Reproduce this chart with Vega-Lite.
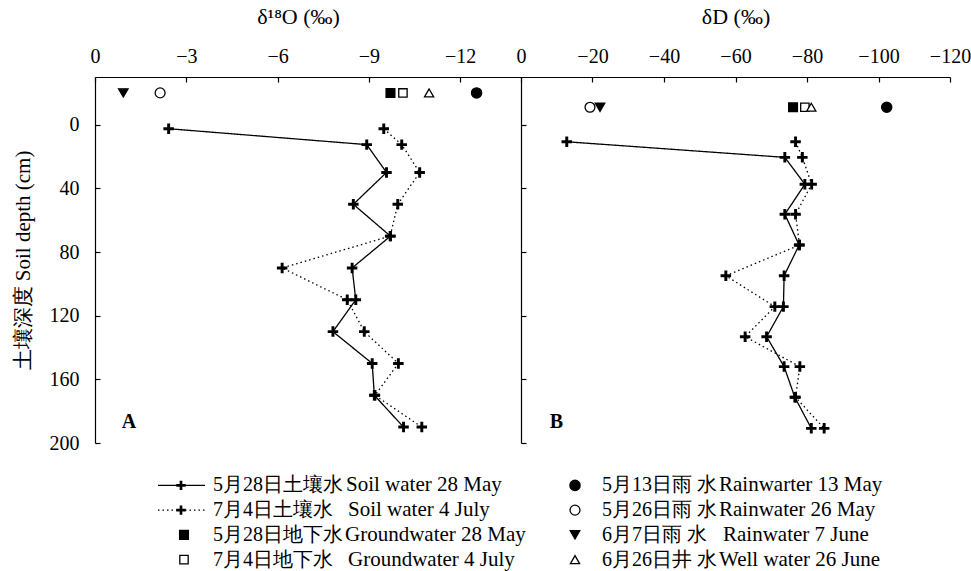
{
  "$schema": "https://vega.github.io/schema/vega-lite/v6.json",
  "background": "white",
  "padding": {"left": 12, "top": 5, "right": 5, "bottom": 0},
  "config": {
    "view": {"stroke": null},
    "font": "Liberation Serif",
    "axis": {
      "labelFont": "Liberation Serif",
      "labelFontSize": 20,
      "labelColor": "black",
      "titleFont": "Liberation Serif",
      "titleFontSize": 21,
      "titleFontWeight": "normal",
      "titleColor": "black",
      "domainColor": "black",
      "domainWidth": 1.2,
      "tickColor": "black",
      "tickWidth": 1.2,
      "tickSize": -5,
      "grid": false,
      "labelFlush": false,
      "labelOverlap": false
    }
  },
  "datasets": {
    "soilA": [
      {"series": "28 May", "depth": 2.5, "value": -2.42},
      {"series": "28 May", "depth": 12.5, "value": -8.93},
      {"series": "28 May", "depth": 30, "value": -9.58},
      {"series": "28 May", "depth": 50, "value": -8.49},
      {"series": "28 May", "depth": 70, "value": -9.71},
      {"series": "28 May", "depth": 90, "value": -8.45},
      {"series": "28 May", "depth": 110, "value": -8.57},
      {"series": "28 May", "depth": 130, "value": -7.82},
      {"series": "28 May", "depth": 150, "value": -9.11},
      {"series": "28 May", "depth": 170, "value": -9.18},
      {"series": "28 May", "depth": 190, "value": -10.14},
      {"series": "4 July", "depth": 2.5, "value": -9.49},
      {"series": "4 July", "depth": 12.5, "value": -10.08},
      {"series": "4 July", "depth": 30, "value": -10.67},
      {"series": "4 July", "depth": 50, "value": -9.95},
      {"series": "4 July", "depth": 70, "value": -9.7},
      {"series": "4 July", "depth": 90, "value": -6.15},
      {"series": "4 July", "depth": 110, "value": -8.29},
      {"series": "4 July", "depth": 130, "value": -8.85},
      {"series": "4 July", "depth": 150, "value": -9.97},
      {"series": "4 July", "depth": 170, "value": -9.2},
      {"series": "4 July", "depth": 190, "value": -10.74}
    ],
    "soilB": [
      {"series": "28 May", "depth": 10.7, "value": -12.8},
      {"series": "28 May", "depth": 20.5, "value": -73.8},
      {"series": "28 May", "depth": 37.4, "value": -79.4},
      {"series": "28 May", "depth": 56.3, "value": -73.8},
      {"series": "28 May", "depth": 75.6, "value": -77.8},
      {"series": "28 May", "depth": 94.9, "value": -73.6},
      {"series": "28 May", "depth": 114.3, "value": -73.4},
      {"series": "28 May", "depth": 133.2, "value": -68.7},
      {"series": "28 May", "depth": 152, "value": -73.6},
      {"series": "28 May", "depth": 171.3, "value": -76.6},
      {"series": "28 May", "depth": 190.8, "value": -81.2},
      {"series": "4 July", "depth": 10.7, "value": -76.8},
      {"series": "4 July", "depth": 20.5, "value": -78.7},
      {"series": "4 July", "depth": 37.4, "value": -81.3},
      {"series": "4 July", "depth": 56.3, "value": -76.8},
      {"series": "4 July", "depth": 75.6, "value": -77.9},
      {"series": "4 July", "depth": 94.9, "value": -57.3},
      {"series": "4 July", "depth": 114.3, "value": -71.0},
      {"series": "4 July", "depth": 133.2, "value": -62.7},
      {"series": "4 July", "depth": 152, "value": -78.0},
      {"series": "4 July", "depth": 171.3, "value": -76.8},
      {"series": "4 July", "depth": 190.8, "value": -84.8}
    ],
    "topA": [
      {"kind": "rain7", "depth": -20, "value": -0.93},
      {"kind": "rain26", "depth": -20, "value": -2.14},
      {"kind": "gw28", "depth": -20, "value": -9.71},
      {"kind": "gw4", "depth": -20, "value": -10.12},
      {"kind": "well26", "depth": -20, "value": -10.98},
      {"kind": "rain13", "depth": -20, "value": -12.54}
    ],
    "topB": [
      {"kind": "rain26", "depth": -11, "value": -19.3},
      {"kind": "rain7", "depth": -11, "value": -22.1},
      {"kind": "gw28", "depth": -11, "value": -76.1},
      {"kind": "gw4", "depth": -11, "value": -79.4},
      {"kind": "well26", "depth": -11, "value": -81.2},
      {"kind": "rain13", "depth": -11, "value": -102.3}
    ],
    "labA": [{"label": "A", "depth": 187, "value": -1.12}],
    "labB": [{"label": "B", "depth": 187, "value": -9.9}],
    "legLines": [
      {"series": "28 May", "row": 1, "lx1": 63, "lx2": 110, "lxm": 86},
      {"series": "4 July", "row": 2, "lx1": 63, "lx2": 110, "lxm": 86}
    ],
    "legSym": [
      {"kind": "gw28", "row": 3, "sx": 89},
      {"kind": "gw4", "row": 4, "sx": 89},
      {"kind": "rain13", "row": 1, "sx": 480},
      {"kind": "rain26", "row": 2, "sx": 480},
      {"kind": "rain7", "row": 3, "sx": 480},
      {"kind": "well26", "row": 4, "sx": 480}
    ],
    "legText": [
      {"row": 1, "cx": 118, "cjk": "5月28日土壤水", "ex": 251, "eng": "Soil water  28 May"},
      {"row": 2, "cx": 118, "cjk": "7月4日土壤水", "ex": 253, "eng": "Soil water  4 July"},
      {"row": 3, "cx": 118, "cjk": "5月28日地下水", "ex": 250, "eng": "Groundwater 28 May"},
      {"row": 4, "cx": 118, "cjk": "7月4日地下水", "ex": 253, "eng": "Groundwater 4 July"},
      {"row": 1, "cx": 507, "cjk": "5月13日雨 水", "ex": 624, "eng": "Rainwarter 13 May"},
      {"row": 2, "cx": 507, "cjk": "5月26日雨 水", "ex": 624, "eng": "Rainwater  26 May"},
      {"row": 3, "cx": 507, "cjk": "6月7日雨 水", "ex": 628, "eng": "Rainwater  7 June"},
      {"row": 4, "cx": 507, "cjk": "6月26日井 水", "ex": 624, "eng": "Well water 26 June"}
    ]
  },
  "vconcat": [
    {
      "hconcat": [
        {
          "width": 426,
          "height": 366,
          "encoding": {
            "x": {
              "field": "value", "type": "quantitative",
              "scale": {"domain": [0, -14], "nice": false, "zero": false},
              "axis": {"orient": "top", "title": "δ¹⁸O (‰)", "titleFontSize": 22, "titleX": 203, "values": [0, -3, -6, -9, -12], "labelPadding": 16, "titlePadding": 18}
            },
            "y": {
              "field": "depth", "type": "quantitative",
              "scale": {"domain": [-30, 200], "reverse": true, "nice": false, "zero": false},
              "axis": {"orient": "left", "title": "土壤深度 Soil depth (cm)", "values": [0, 40, 80, 120, 160, 200], "labelPadding": 21, "titlePadding": 16}
            }
          },
          "layer": [
            {
              "data": {"name": "soilA"},
              "mark": {"type": "line", "color": "black", "strokeWidth": 1.3},
              "encoding": {
                "strokeDash": {"field": "series", "type": "nominal", "scale": {"domain": ["28 May", "4 July"], "range": [[1, 0], [1.5, 3]]}, "legend": null},
                "order": {"field": "depth", "type": "quantitative"}
              }
            },
            {
              "data": {"name": "soilA"},
              "mark": {"type": "point", "shape": "M-1,-0.28H-0.28V-1H0.28V-0.28H1V0.28H0.28V1H-0.28V0.28H-1Z", "filled": true, "color": "black", "size": 110, "opacity": 1}
            },
            {
              "data": {"name": "topA"},
              "mark": {"type": "point", "filled": true, "stroke": "black", "strokeWidth": 1.3, "opacity": 1},
              "encoding": {
                "shape": {"field": "kind", "type": "nominal", "scale": {"domain": ["rain13", "rain26", "rain7", "well26", "gw28", "gw4"], "range": ["circle", "circle", "triangle-down", "triangle-up", "square", "square"]}, "legend": null},
                "fill": {"field": "kind", "type": "nominal", "scale": {"domain": ["rain13", "rain26", "rain7", "well26", "gw28", "gw4"], "range": ["black", "white", "black", "white", "black", "white"]}, "legend": null},
                "size": {"field": "kind", "type": "nominal", "scale": {"domain": ["rain13", "rain26", "rain7", "well26", "gw28", "gw4"], "range": [105, 70, 120, 100, 75, 65]}, "legend": null}
              }
            },
            {
              "data": {"name": "labA"},
              "mark": {"type": "text", "font": "Liberation Serif", "fontSize": 20, "fontWeight": "bold", "color": "black", "align": "center", "baseline": "middle"},
              "encoding": {"text": {"field": "label"}}
            }
          ]
        },
        {
          "width": 429,
          "height": 366,
          "encoding": {
            "x": {
              "field": "value", "type": "quantitative",
              "scale": {"domain": [0, -120], "nice": false, "zero": false},
              "axis": {"orient": "top", "title": "δD (‰)", "titleFontSize": 22, "values": [0, -20, -40, -60, -80, -100, -120], "labelPadding": 16, "titlePadding": 18}
            },
            "y": {
              "field": "depth", "type": "quantitative",
              "scale": {"domain": [-30, 200], "reverse": true, "nice": false, "zero": false},
              "axis": {"orient": "left", "title": null, "labels": false, "values": [0, 40, 80, 120, 160, 200]}
            }
          },
          "layer": [
            {
              "data": {"name": "soilB"},
              "mark": {"type": "line", "color": "black", "strokeWidth": 1.3},
              "encoding": {
                "strokeDash": {"field": "series", "type": "nominal", "scale": {"domain": ["28 May", "4 July"], "range": [[1, 0], [1.5, 3]]}, "legend": null},
                "order": {"field": "depth", "type": "quantitative"}
              }
            },
            {
              "data": {"name": "soilB"},
              "mark": {"type": "point", "shape": "M-1,-0.28H-0.28V-1H0.28V-0.28H1V0.28H0.28V1H-0.28V0.28H-1Z", "filled": true, "color": "black", "size": 110, "opacity": 1}
            },
            {
              "data": {"name": "topB"},
              "mark": {"type": "point", "filled": true, "stroke": "black", "strokeWidth": 1.3, "opacity": 1},
              "encoding": {
                "shape": {"field": "kind", "type": "nominal", "scale": {"domain": ["rain13", "rain26", "rain7", "well26", "gw28", "gw4"], "range": ["circle", "circle", "triangle-down", "triangle-up", "square", "square"]}, "legend": null},
                "fill": {"field": "kind", "type": "nominal", "scale": {"domain": ["rain13", "rain26", "rain7", "well26", "gw28", "gw4"], "range": ["black", "white", "black", "white", "black", "white"]}, "legend": null},
                "size": {"field": "kind", "type": "nominal", "scale": {"domain": ["rain13", "rain26", "rain7", "well26", "gw28", "gw4"], "range": [105, 70, 120, 100, 75, 65]}, "legend": null}
              }
            },
            {
              "data": {"name": "labB"},
              "mark": {"type": "text", "font": "Liberation Serif", "fontSize": 20, "fontWeight": "bold", "color": "black", "align": "center", "baseline": "middle"},
              "encoding": {"text": {"field": "label"}}
            }
          ]
        }
      ],
      "spacing": 0,
      "bounds": "flush",
      "resolve": {"scale": {"x": "independent", "y": "independent", "shape": "independent", "fill": "independent", "size": "independent", "strokeDash": "independent"}}
    },
    {
      "width": 800,
      "height": 99,
      "layer": [
        {
          "data": {"name": "legLines"},
          "mark": {"type": "rule", "color": "black", "strokeWidth": 1.3},
          "encoding": {
            "x": {"field": "lx1", "type": "quantitative", "scale": {"domain": [0, 800], "nice": false, "zero": false}, "axis": null},
            "x2": {"field": "lx2"},
            "y": {"field": "row", "type": "quantitative", "scale": {"domain": [0.5, 4.5], "reverse": true, "nice": false, "zero": false}, "axis": null},
            "strokeDash": {"field": "series", "type": "nominal", "scale": {"domain": ["28 May", "4 July"], "range": [[1, 0], [1.5, 3]]}, "legend": null}
          }
        },
        {
          "data": {"name": "legLines"},
          "mark": {"type": "point", "shape": "M-1,-0.28H-0.28V-1H0.28V-0.28H1V0.28H0.28V1H-0.28V0.28H-1Z", "filled": true, "color": "black", "size": 90, "opacity": 1},
          "encoding": {
            "x": {"field": "lxm", "type": "quantitative"},
            "y": {"field": "row", "type": "quantitative"}
          }
        },
        {
          "data": {"name": "legSym"},
          "mark": {"type": "point", "filled": true, "stroke": "black", "strokeWidth": 1.3, "opacity": 1},
          "encoding": {
            "x": {"field": "sx", "type": "quantitative"},
            "y": {"field": "row", "type": "quantitative"},
            "shape": {"field": "kind", "type": "nominal", "scale": {"domain": ["rain13", "rain26", "rain7", "well26", "gw28", "gw4"], "range": ["circle", "circle", "triangle-down", "triangle-up", "square", "square"]}, "legend": null},
            "fill": {"field": "kind", "type": "nominal", "scale": {"domain": ["rain13", "rain26", "rain7", "well26", "gw28", "gw4"], "range": ["black", "white", "black", "white", "black", "white"]}, "legend": null},
            "size": {"field": "kind", "type": "nominal", "scale": {"domain": ["rain13", "rain26", "rain7", "well26", "gw28", "gw4"], "range": [105, 70, 120, 100, 75, 65]}, "legend": null}
          }
        },
        {
          "data": {"name": "legText"},
          "mark": {"type": "text", "font": "Liberation Serif", "fontSize": 20, "color": "black", "align": "left", "baseline": "middle"},
          "encoding": {
            "x": {"field": "cx", "type": "quantitative"},
            "y": {"field": "row", "type": "quantitative"},
            "text": {"field": "cjk"}
          }
        },
        {
          "data": {"name": "legText"},
          "mark": {"type": "text", "font": "Liberation Serif", "fontSize": 21, "color": "black", "align": "left", "baseline": "middle"},
          "encoding": {
            "x": {"field": "ex", "type": "quantitative"},
            "y": {"field": "row", "type": "quantitative"},
            "text": {"field": "eng"}
          }
        }
      ]
    }
  ],
  "spacing": 20,
  "resolve": {"scale": {"x": "independent", "y": "independent", "shape": "independent", "fill": "independent", "size": "independent", "strokeDash": "independent"}}
}
